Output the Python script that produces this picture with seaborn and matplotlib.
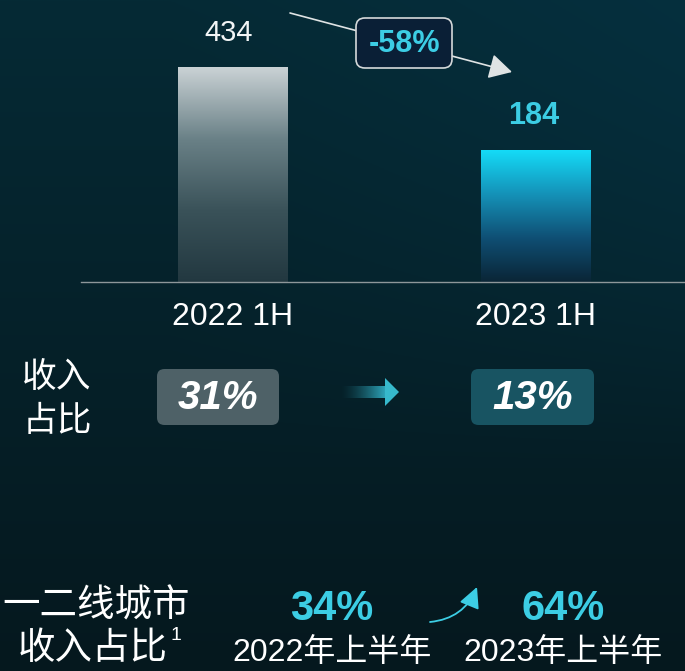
import numpy as np
import pandas as pd
import matplotlib
matplotlib.use('Agg')
import matplotlib.pyplot as plt
import seaborn as sns
from matplotlib.colors import LinearSegmentedColormap, to_rgb
from matplotlib.patches import FancyArrowPatch, FancyBboxPatch, Polygon
from matplotlib.ticker import NullLocator

# ---- data ----
periods = ['2022 1H', '2023 1H']
revenue = [434, 184]
change_label = '-58%'
share_title = ['收入', '占比']
share_labels = ['31%', '13%']
tier_title = ['一二线城市', '收入占比']
tier_labels = ['34%', '64%']
tier_years = ['2022年上半年', '2023年上半年']

sns.set_theme(style='white')
plt.rcParams['font.family'] = ['Liberation Sans', 'Noto Sans CJK SC', 'DejaVu Sans']
CJK = ['Noto Sans CJK SC', 'Liberation Sans', 'DejaVu Sans']
CYAN = '#3ccde4'

W, H = 685, 671
fig = plt.figure(figsize=(W / 100, H / 100), dpi=100)


def fx(px):
    return px / W


def fy(py):
    return 1 - py / H


# ---- background gradient ----
bg = fig.add_axes([0, 0, 1, 1], zorder=0)
bg.axis('off')
yy, xx = np.mgrid[0:1:300j, 0:1:300j]
top = np.array(to_rgb('#052a35'))
bot = np.array(to_rgb('#06181e'))
t = yy[..., None]
img = top * (1 - t) + bot * t
hl = np.array(to_rgb('#06303f'))
w = (np.clip((xx - 0.25) / 0.75, 0, 1) * np.clip(1 - yy / 0.7, 0, 1))[..., None] * 0.9
img = img * (1 - w) + hl * w
bg.imshow(img, extent=(0, 1, 0, 1), aspect='auto', origin='upper')
bg.set_xlim(0, 1)
bg.set_ylim(0, 1)

# ---- bar chart ----
ax = fig.add_axes([fx(81), fy(282), fx(685) - fx(81), 282 / H], zorder=1)
ax.patch.set_alpha(0)
df = pd.DataFrame({'period': periods, 'revenue': revenue})
sns.barplot(data=df, x='period', y='revenue', ax=ax, width=0.36, color='#888888')
ax.set_yscale('log')
YLIM = (47, 868)
XLIM = (-0.5, 1.493)
ax.set_ylim(*YLIM)
ax.set_xlim(*XLIM)

cmaps = [
    LinearSegmentedColormap.from_list('g1', ['#223840', '#3a5259', '#6a8187', '#cad2d5']),
    LinearSegmentedColormap.from_list('g2', ['#0a2536', '#0f4f74', '#1592b8', '#14dbf7']),
]
grad = np.linspace(0, 1, 256)[:, None]
inv = ax.transAxes.inverted()
for p, cm in zip(list(ax.patches), cmaps):
    x0 = p.get_x()
    x1 = x0 + p.get_width()
    v = p.get_y() + p.get_height()
    a0, ay = inv.transform(ax.transData.transform((x0, v)))
    a1, _ = inv.transform(ax.transData.transform((x1, v)))
    ax.imshow(grad, cmap=cm, extent=(a0, a1, 0, ay), origin='lower',
              aspect='auto', transform=ax.transAxes, zorder=2)
    p.set_facecolor('none')
    p.set_edgecolor('none')
ax.set_ylim(*YLIM)
ax.set_xlim(*XLIM)

label_styles = [dict(color='#f2f5f6', fontweight='normal', fontsize=21),
                dict(color=CYAN, fontweight='bold', fontsize=22)]
label_dx = [-4, -2]
for i, (v, st, dx) in enumerate(zip(revenue, label_styles, label_dx)):
    ax.annotate(str(v), xy=(i, v), xytext=(dx * 0.72, 34 * 0.72), textcoords='offset points',
                ha='center', va='center', **st)

for s in ['left', 'top', 'right']:
    ax.spines[s].set_visible(False)
ax.spines['bottom'].set_color('#8e979a')
ax.spines['bottom'].set_linewidth(1.0)
ax.yaxis.set_major_locator(NullLocator())
ax.yaxis.set_minor_locator(NullLocator())
ax.set_xlabel('')
ax.set_ylabel('')
ax.tick_params(axis='x', length=0, pad=14.5, labelsize=23, labelcolor='white')

# ---- change arrow with -58% box ----
arr = FancyArrowPatch((fx(290), fy(13)), (fx(512), fy(72)), transform=fig.transFigure,
                      arrowstyle='-|>,head_length=1.0,head_width=0.55', mutation_scale=14,
                      color='#dfe3e4', lw=1.2, shrinkA=0, shrinkB=0, zorder=3)
fig.add_artist(arr)
box = FancyBboxPatch((fx(356), fy(68)), fx(452) - fx(356), 50 / H,
                     boxstyle='round,pad=0,rounding_size=0.013', transform=fig.transFigure,
                     fc='#0a1f36', ec='#d5d9da', lw=1.2, zorder=4)
fig.add_artist(box)
fig.text(fx(404), fy(44), change_label, ha='center', va='center', fontsize=22,
         fontweight='bold', color=CYAN, zorder=5)

# ---- revenue share row ----
for txt, yc in zip(share_title, [377, 422]):
    fig.text(fx(57), fy(yc), txt, ha='center', va='center', fontsize=25, color='white',
             family=CJK, fontstyle='italic', fontweight='light')

share_boxes = [(157, 279, '#4e6167'), (471, 594, '#185462')]
for lab, (x0, x1, fc) in zip(share_labels, share_boxes):
    b = FancyBboxPatch((fx(x0), fy(425)), fx(x1) - fx(x0), 56 / H,
                       boxstyle='round,pad=0,rounding_size=0.011', transform=fig.transFigure,
                       fc=fc, ec='none', zorder=4)
    fig.add_artist(b)
    fig.text(fx((x0 + x1) / 2), fy(398), lab, ha='center', va='center', fontsize=29,
             fontweight='bold', fontstyle='italic', color='white', zorder=5)

aa = fig.add_axes([fx(340), fy(406), (400 - 340) / W, 28 / H], zorder=2)
aa.axis('off')
shaft = np.zeros((1, 200, 4))
shaft[..., :3] = to_rgb('#2fa8bd')
shaft[..., 3] = np.linspace(0, 1, 200) ** 1.5
aa.imshow(shaft, extent=(0, 46, 8, 20), aspect='auto', origin='lower')
aa.add_patch(Polygon([[45, 0], [45, 28], [59, 14]], closed=True, fc='#37b9cc', ec='none'))
aa.set_xlim(0, 60)
aa.set_ylim(0, 28)

# ---- tier-1/2 city share row ----
fig.text(fx(96), fy(606), tier_title[0], ha='center', va='center', fontsize=27,
         color='white', family=CJK)
fig.text(fx(18), fy(648), tier_title[1], ha='left', va='center', fontsize=27,
         color='white', family=CJK)
fig.text(fx(171), fy(636), '1', ha='left', va='center', fontsize=14, color='white')

for lab, yr, xc in zip(tier_labels, tier_years, [332, 563]):
    fig.text(fx(xc), fy(609), lab, ha='center', va='center', fontsize=30,
             fontweight='bold', color=CYAN)
    fig.text(fx(xc), fy(661), yr, ha='center', va='baseline', fontsize=23, color='white')

curve = FancyArrowPatch((fx(430), fy(622)), (fx(477), fy(587)), transform=fig.transFigure,
                        connectionstyle='arc3,rad=0.3',
                        arrowstyle='-|>,head_length=0.9,head_width=0.45', mutation_scale=14,
                        color=CYAN, lw=1.3, shrinkA=0, shrinkB=0, zorder=3)
fig.add_artist(curve)

fig.savefig('out.png', dpi=100)
